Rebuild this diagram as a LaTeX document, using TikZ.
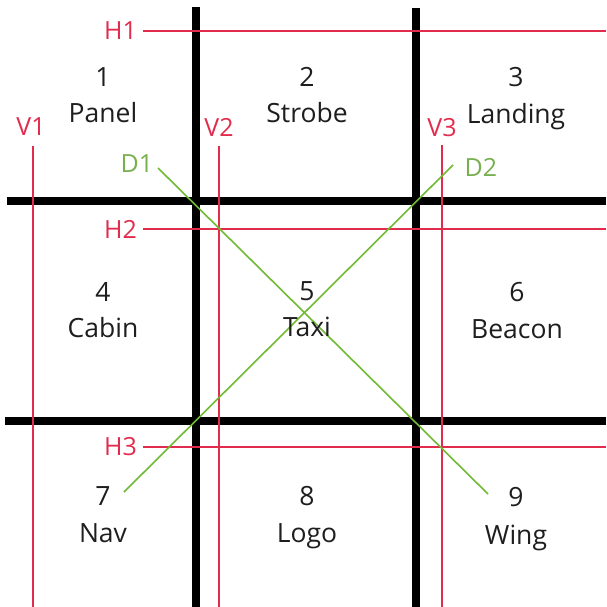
\documentclass[tikz,border=0pt]{standalone}
\usepackage{fontspec}
\setmainfont{Open Sans}
\definecolor{gridred}{RGB}{226,44,78}
\definecolor{gridgreen}{RGB}{112,186,52}
\definecolor{lblgreen}{RGB}{120,176,80}
\definecolor{txt}{RGB}{30,30,30}
\tikzset{
  cell/.style={text=txt, font=\fontsize{26.5}{26.5}\selectfont, inner sep=0pt, anchor=base},
  redlbl/.style={text=gridred, font=\fontsize{25}{25}\selectfont, inner sep=0pt},
  greenlbl/.style={text=lblgreen, font=\fontsize{25}{25}\selectfont, inner sep=0pt},
  thick bar/.style={line width=8.5pt, black},
  redline/.style={line width=1.4pt, gridred},
  greenline/.style={line width=1.6pt, gridgreen},
}
\begin{document}
\begin{tikzpicture}[x=1pt,y=-1pt]
\useasboundingbox (0,0) rectangle (606,607);
% black grid
\coordinate (b1t) at (196,7);   \coordinate (b1b) at (196,607);
\coordinate (b2t) at (416,8);   \coordinate (b2b) at (416,607);
\coordinate (b3l) at (7,201);   \coordinate (b3r) at (606,201);
\coordinate (b4l) at (5,421);   \coordinate (b4r) at (606,421);
\draw[thick bar] (b1t) -- (b1b);
\draw[thick bar] (b2t) -- (b2b);
\draw[thick bar] (b3l) -- (b3r);
\draw[thick bar] (b4l) -- (b4r);
% red horizontal guides
\node[redlbl, anchor=east] (H1) at (137,31) {H1};
\node[redlbl, anchor=east] (H2) at (137,229) {H2};
\node[redlbl, anchor=east] (H3) at (137,447) {H3};
\coordinate (h1s) at (143,31);  \coordinate (h1e) at (606,31);
\coordinate (h2s) at (143,229); \coordinate (h2e) at (606,229);
\coordinate (h3s) at (143,447); \coordinate (h3e) at (606,447);
\draw[redline] (h1s) -- (h1e);
\draw[redline] (h2s) -- (h2e);
\draw[redline] (h3s) -- (h3e);
% red vertical guides
\node[redlbl] (V1) at (31,127) {V1};
\node[redlbl] (V2) at (219,127) {V2};
\node[redlbl] (V3) at (442,128) {V3};
\coordinate (v1s) at (33,146);  \coordinate (v1e) at (33,607);
\coordinate (v2s) at (219,146); \coordinate (v2e) at (219,607);
\coordinate (v3s) at (442,145); \coordinate (v3e) at (442,607);
\draw[redline] (v1s) -- (v1e);
\draw[redline] (v2s) -- (v2e);
\draw[redline] (v3s) -- (v3e);
% green diagonals
\node[greenlbl] (D1) at (137,164) {D1};
\node[greenlbl] (D2) at (481,167) {D2};
\coordinate (d1s) at (158,168); \coordinate (d1e) at (488,494);
\coordinate (d2s) at (453,165); \coordinate (d2e) at (124,492);
\draw[greenline] (d1s) -- (d1e);
\draw[greenline] (d2s) -- (d2e);
% cell labels
\node[cell] (n1) at (103,87) {1};   \node[cell] (w1) at (103,123) {Panel};
\node[cell] (n2) at (307,87) {2};   \node[cell] (w2) at (307,123) {Strobe};
\node[cell] (n3) at (516,87) {3};   \node[cell] (w3) at (516,124) {Landing};
\node[cell] (n4) at (103,301) {4};  \node[cell] (w4) at (103,337) {Cabin};
\node[cell] (n5) at (307,300) {5};  \node[cell] (w5) at (307,336) {Taxi};
\node[cell] (n6) at (517,301) {6};  \node[cell] (w6) at (517,338) {Beacon};
\node[cell] (n7) at (103,505) {7};  \node[cell] (w7) at (103,542) {Nav};
\node[cell] (n8) at (307,505) {8};  \node[cell] (w8) at (307,542) {Logo};
\node[cell] (n9) at (516,506) {9};  \node[cell] (w9) at (516,544) {Wing};
\end{tikzpicture}
\end{document}
